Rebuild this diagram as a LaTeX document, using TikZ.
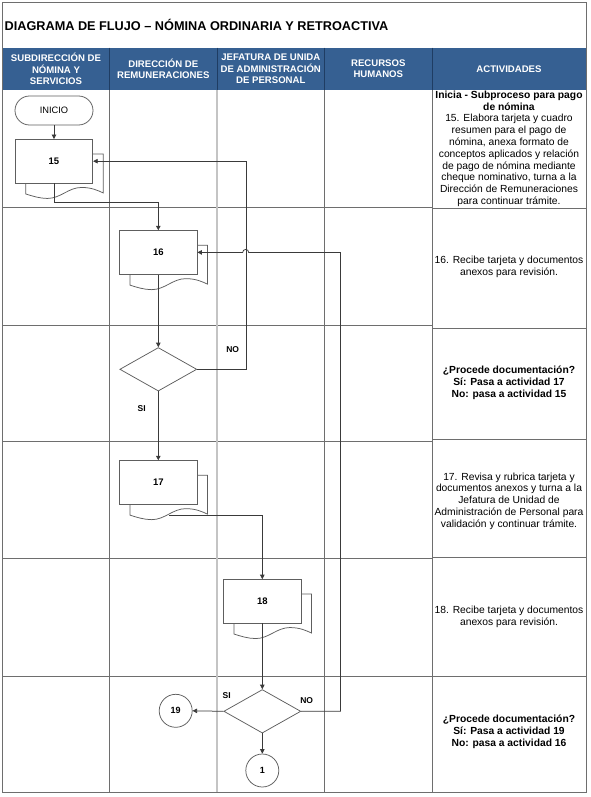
\documentclass[tikz,border=0pt]{standalone}
\usepackage{fontspec}
\setmainfont{Liberation Sans}
\usetikzlibrary{arrows.meta,shapes.geometric,calc}
\definecolor{hdr}{HTML}{366092}
\definecolor{hdrline}{HTML}{1F3D63}
\definecolor{gridc}{HTML}{6E6E6E}
\definecolor{lightc}{HTML}{C4C4C4}
\definecolor{linec}{HTML}{3A3A3A}
\definecolor{shapec}{HTML}{5E5E5E}

% document shape: name, cx, cy, label
\newcommand\docbox[4]{%
  \pgfmathsetmacro\dxL{#2-38.75+10.5}%
  \pgfmathsetmacro\dxR{#2+38.75+10.5}%
  \pgfmathsetmacro\dyT{#3-21.75+14.5}%
  \pgfmathsetmacro\dyB{#3+21.75}%
  \draw[shapeline,fill=white] (\dxL,\dyT) -- (\dxR,\dyT) -- (\dxR,\dyB+10)
    .. controls ({\dxL+0.93*77.5},\dyB+7.5) and ({\dxL+0.85*77.5},\dyB+4.5) .. ({\dxL+0.72*77.5},\dyB+4.5)
    .. controls ({\dxL+0.55*77.5},\dyB+4.5) and ({\dxL+0.45*77.5},\dyB+15.5) .. ({\dxL+0.28*77.5},\dyB+15.5)
    .. controls ({\dxL+0.18*77.5},\dyB+15.5) and ({\dxL+0.08*77.5},\dyB+13) .. (\dxL,\dyB+11) -- cycle;
  \node[procbox] (#1) at (#2,#3) {#4};
}

\begin{document}
\begin{tikzpicture}[x=1pt,y=-1pt,
  shapeline/.style={draw=shapec, line width=0.75pt},
  procbox/.style={shapeline, fill=white, rectangle, minimum width=77.5pt, minimum height=43.5pt, inner sep=0pt, font=\bfseries\fontsize{9.5}{11}\selectfont},
  decision/.style={shapeline, fill=white, diamond, minimum width=77pt, minimum height=43.5pt, inner sep=0pt},
  term/.style={shapeline, fill=white, rectangle, rounded corners=14.5pt, minimum width=78pt, minimum height=29pt, inner sep=0pt, font=\fontsize{9.3}{11}\selectfont},
  conector/.style={shapeline, circle, minimum size=33pt, inner sep=0pt, font=\bfseries\fontsize{9}{11}\selectfont},
  conn/.style={draw=linec, line width=0.75pt},
  arr/.style={conn, -{Triangle[length=4.5pt,width=4.5pt]}},
  lbl/.style={font=\bfseries\fontsize{8.5}{10}\selectfont, inner sep=0pt},
  hdrtxt/.style={text=white, font=\bfseries\fontsize{9.6}{11.5}\selectfont, align=center, inner sep=0pt},
  acttxt/.style={font=\fontsize{10.3}{11.8}\selectfont, align=center, inner sep=0pt},
  acttxtb/.style={font=\bfseries\fontsize{10.3}{11.8}\selectfont, align=center, inner sep=0pt},
  gridl/.style={draw=gridc, line width=0.7pt},
  lightl/.style={draw=lightc, line width=1.6pt}
]
\useasboundingbox (0,0) rectangle (590,797);
\fill[white] (0,0) rectangle (590,797);

% title
\node[anchor=base west, inner sep=0pt, font=\bfseries\fontsize{12.7}{15}\selectfont] (title) at (4.5,31) {DIAGRAMA DE FLUJO – NÓMINA ORDINARIA Y RETROACTIVA};

% header band
\fill[hdr] (2.5,47.7) rectangle (586,90);
\foreach \x in {109.5,217,324.5,432} \draw[hdrline, line width=0.7pt] (\x,47.7) -- (\x,90);
\node[hdrtxt] (h1) at (56,68.8) {SUBDIRECCIÓN DE\\NÓMINA Y\\SERVICIOS};
\node[hdrtxt] (h2) at (163.3,68.8) {DIRECCIÓN DE\\REMUNERACIONES};
\node[hdrtxt] (h3) at (270.8,68.8) {JEFATURA DE UNIDA\\DE ADMINISTRACIÓN\\DE PERSONAL};
\node[hdrtxt] (h4) at (378.3,68.8) {RECURSOS\\HUMANOS};
\node[hdrtxt] (h5) at (509,68.8) {ACTIVIDADES};

% grid
\foreach \y in {207,325,441,558,676} \draw[gridl] (2.5,\y) -- (432,\y);
\foreach \y in {208.5,328,439,557.5,676} \draw[gridl] (432,\y) -- (586,\y);
\draw[gridl] (109.5,90) -- (109.5,792);
\draw[gridl] (324.5,90) -- (324.5,792);
\draw[gridl] (432,90) -- (432,792);
\draw[lightl] (217,90) -- (217,792);
\draw[gridl] (2.5,2.5) rectangle (586,792);

% activities text
\node[acttxt] (a1) at (509,148.7) {\textbf{Inicia - Subproceso para pago}\\\textbf{de nómina}\\15. Elabora tarjeta y cuadro\\resumen para el pago de\\nómina, anexa formato de\\conceptos aplicados y relación\\de pago de nómina mediante\\cheque nominativo, turna a la\\Dirección de Remuneraciones\\para continuar trámite.};
\node[acttxt] (a2) at (509,266.5) {16. Recibe tarjeta y documentos\\anexos para revisión.};
\node[acttxtb] (a3) at (509,383) {¿Procede documentación?\\Sí: Pasa a actividad 17\\No: pasa a actividad 15};
\node[acttxt] (a4) at (509,501) {17. Revisa y rubrica tarjeta y\\documentos anexos y turna a la\\Jefatura de Unidad de\\Administración de Personal para\\validación y continuar trámite.};
\node[acttxt] (a5) at (509,617) {18. Recibe tarjeta y documentos\\anexos para revisión.};
\node[acttxtb] (a6) at (509,732) {¿Procede documentación?\\Sí: Pasa a actividad 19\\No: pasa a actividad 16};

% shapes
\node[term] (inicio) at (54,110.5) {INICIO};
\docbox{n15}{54}{161.2}{15}
\docbox{n16}{158.3}{252.4}{16}
\node[decision] (d1) at (158.3,369.3) {};
\docbox{n17}{158.3}{482.4}{17}
\docbox{n18}{262.3}{601.3}{18}
\node[decision] (d2) at (262.3,711.3) {};
\node[conector] (c19) at (175.7,710.8) {19};
\node[conector] (c1) at (262.3,770.5) {1};

% connectors
\draw[arr] (inicio.south) -- (n15.north);
\draw[arr] (n15.south) -- ++(0,18.7) -| (n16.north);
\draw[arr] (n16.south) -- (d1.north);
\draw[arr] (d1.east) -- ++(49,0) |- (n15.east);
\draw[arr] (d1.south) -- (n17.north);
\coordinate (n17out) at (168.8,515.6);
\draw[arr] (n17out) -| (n18.north);
\draw[arr] (n18.south) -- (d2.north);
\coordinate (hopR) at (248.7,252.4);
\draw[arr] (d2.east) -- ++(39.2,0) |- (hopR) arc[start angle=0, end angle=180, radius=3pt] -- (n16.east);
\draw[arr] (d2.west) -- (c19.east);
\draw[arr] (d2.south) -- (c1.north);

% labels
\node[lbl] (no1) at (232.7,350) {NO};
\node[lbl] (si1) at (141.7,409) {SI};
\node[lbl] (si2) at (226.7,696) {SI};
\node[lbl] (no2) at (306.7,700.7) {NO};
\end{tikzpicture}
\end{document}
